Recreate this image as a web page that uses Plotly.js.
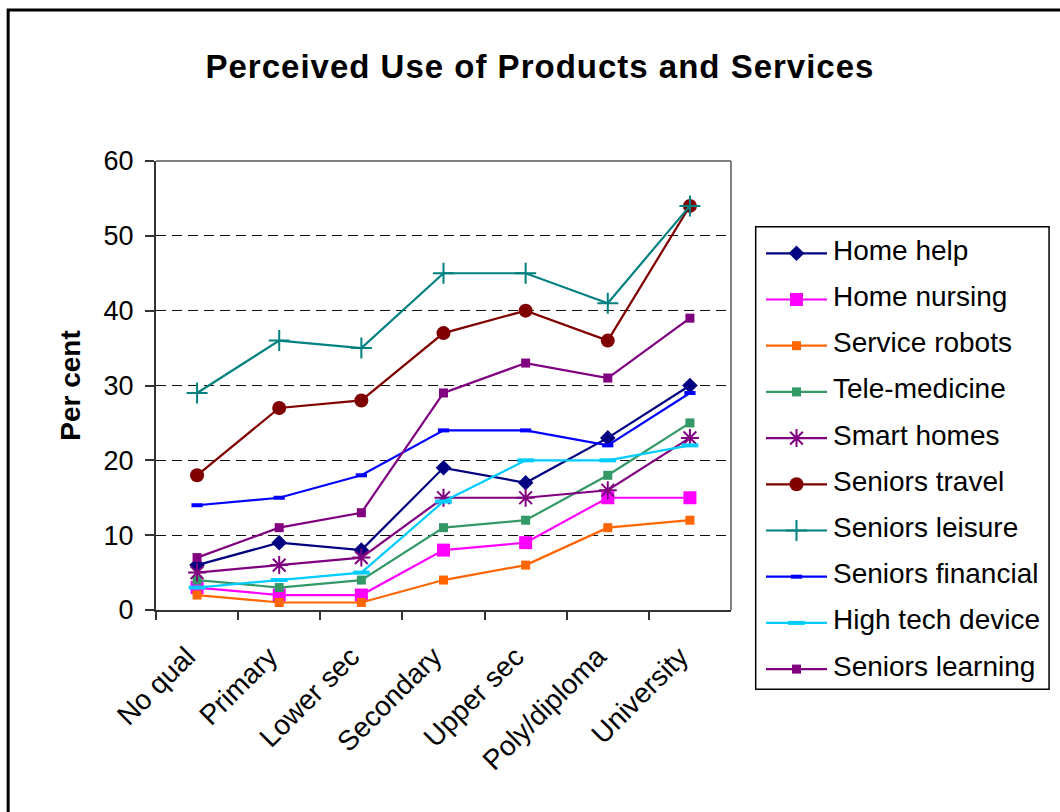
<!DOCTYPE html>
<html>
<head>
<meta charset="utf-8">
<script src="https://cdn.plot.ly/plotly-3.0.1.min.js"></script>
<style>
  html, body { margin: 0; padding: 0; background: #fff; }
  #chart { width: 1060px; height: 812px; }
  .gtitle { letter-spacing: 1px; }
</style>
</head>
<body>
<div id="chart"></div>
<script>
// Education level categories
const categories = ['No qual', 'Primary', 'Lower sec', 'Secondary', 'Upper sec', 'Poly/diploma', 'University'];

// Per cent of respondents who perceive they would use each product / service
const homeHelp         = [6, 9, 8, 19, 17, 23, 30];
const homeNursing      = [3, 2, 2, 8, 9, 15, 15];
const serviceRobots    = [2, 1, 1, 4, 6, 11, 12];
const teleMedicine     = [4, 3, 4, 11, 12, 18, 25];
const smartHomes       = [5, 6, 7, 15, 15, 16, 23];
const seniorsTravel    = [18, 27, 28, 37, 40, 36, 54];
const seniorsLeisure   = [29, 36, 35, 45, 45, 41, 54];
const seniorsFinancial = [14, 15, 18, 24, 24, 22, 29];
const highTechDevice   = [3, 4, 5, 14.5, 20, 20, 22];
const seniorsLearning  = [7, 11, 13, 29, 33, 31, 39];

const seriesNames = ['Home help', 'Home nursing', 'Service robots', 'Tele-medicine', 'Smart homes',
  'Seniors travel', 'Seniors leisure', 'Seniors financial', 'High tech device', 'Seniors learning'];
const seriesValues = [homeHelp, homeNursing, serviceRobots, teleMedicine, smartHomes,
  seniorsTravel, seniorsLeisure, seniorsFinancial, highTechDevice, seniorsLearning];

// Line colour and marker style for each series
const styles = [
  { color: '#000080', symbol: 'diamond', size: 12 },
  { color: '#FF00FF', symbol: 'square', size: 13 },
  { color: '#FF6600', symbol: 'square', size: 9 },
  { color: '#339966', symbol: 'square', size: 9 },
  { color: '#800080', symbol: 'asterisk-open', size: 15, lw: 2 },
  { color: '#800000', symbol: 'circle', size: 14 },
  { color: '#008080', symbol: 'cross-thin-open', size: 15, lw: 2 },
  { color: '#0000FF', symbol: 'line-ew-open', size: 8, lw: 4 },
  { color: '#00CCFF', symbol: 'line-ew-open', size: 12, lw: 4 },
  { color: '#800080', symbol: 'square', size: 9 }
];

const FONT = '"Liberation Sans", Arial, sans-serif';

function markerFor(s) {
  const m = { symbol: s.symbol, size: s.size, color: s.color };
  m.line = s.lw ? { color: s.color, width: s.lw } : { width: 0 };
  return m;
}

const traces = [];
seriesNames.forEach((name, i) => {
  const s = styles[i];
  traces.push({
    type: 'scatter', mode: 'lines+markers', name: name,
    x: categories, y: seriesValues[i],
    xaxis: 'x', yaxis: 'y',
    line: { color: s.color, width: 2.2 },
    marker: markerFor(s),
    showlegend: false, cliponaxis: false
  });
});

// Legend key drawn on a hidden helper axis measured in pixels across the key box:
// a short line with a centred marker per row, then the series name
const keyLine = [10, 71];
const keyText = 75;
const legendAnnotations = [];
seriesNames.forEach((name, i) => {
  const s = styles[i];
  traces.push({
    type: 'scatter', mode: 'lines', x: keyLine, y: [i, i], xaxis: 'x2', yaxis: 'y2',
    line: { color: s.color, width: 2.2 }, showlegend: false, hoverinfo: 'skip'
  });
  traces.push({
    type: 'scatter', mode: 'markers', x: [(keyLine[0] + keyLine[1]) / 2], y: [i], xaxis: 'x2', yaxis: 'y2',
    marker: markerFor(s), showlegend: false, hoverinfo: 'skip', cliponaxis: false
  });
  legendAnnotations.push({
    xref: 'x2', yref: 'y2', x: keyText, y: i, xanchor: 'left', yanchor: 'middle', yshift: 3,
    text: name, showarrow: false, font: { family: FONT, size: 28, color: '#000' }
  });
});

const layout = {
  width: 1060, height: 812,
  margin: { l: 156, r: 8, t: 161, b: 112, pad: 0 },
  paper_bgcolor: '#fff', plot_bgcolor: '#fff',
  font: { family: FONT, color: '#000' },
  title: {
    text: '<b>Perceived Use of Products and Services</b>',
    font: { family: FONT, size: 33, color: '#000' },
    xref: 'container', yref: 'container', x: 0.5094, y: 0.918,
    xanchor: 'center', yanchor: 'middle'
  },
  xaxis: {
    domain: [0, 0.64174], type: 'category', range: [-0.5, 6.5],
    showline: true, linecolor: '#333', linewidth: 2,
    ticks: 'outside', tickson: 'boundaries', ticklen: 8, tickwidth: 2, tickcolor: '#333',
    tickangle: -45, tickfont: { family: FONT, size: 28, color: '#000' },
    ticklabelshift: -10, ticklabelstandoff: 17,
    showgrid: false, zeroline: false, fixedrange: true
  },
  yaxis: {
    domain: [0.16698, 1], range: [0, 60], dtick: 10,
    showline: true, linecolor: '#333', linewidth: 2,
    ticks: 'outside', ticklen: 9, tickwidth: 2, tickcolor: '#333',
    tickfont: { family: FONT, size: 27, color: '#000' },
    ticklabelstandoff: 6,
    showgrid: true, gridcolor: '#111', gridwidth: 1, griddash: '10px,6px',
    zeroline: false, fixedrange: true,
    title: { text: '<b>Per cent</b>', font: { family: FONT, size: 28, color: '#000' }, standoff: 15 }
  },
  xaxis2: { domain: [0.66964, 0.99665], range: [0, 293], visible: false, fixedrange: true, anchor: 'y2' },
  yaxis2: { domain: [0, 1], range: [9.669, -1.998], visible: false, fixedrange: true, anchor: 'x2' },
  shapes: [
    // plot area frame (top and right edges)
    { type: 'line', xref: 'x domain', yref: 'y domain', x0: 0, x1: 1, y0: 1, y1: 1,
      line: { color: '#808080', width: 2 } },
    { type: 'line', xref: 'x domain', yref: 'y domain', x0: 1, x1: 1, y0: 0, y1: 1,
      line: { color: '#808080', width: 2 } },
    // legend box
    { type: 'rect', xref: 'paper', yref: 'paper', x0: 0.6693, x1: 0.9967, y0: 0.01985, y1: 0.8781,
      line: { color: '#000', width: 1.5 } },
    // chart area border
    { type: 'rect', xref: 'paper', yref: 'paper', x0: -0.1650, x1: 1.3, y0: -0.6, y1: 1.2801,
      line: { color: '#000', width: 3 } }
  ],
  annotations: legendAnnotations,
  showlegend: false
};

Plotly.newPlot('chart', traces, layout, { displayModeBar: false, staticPlot: true });
</script>
</body>
</html>
